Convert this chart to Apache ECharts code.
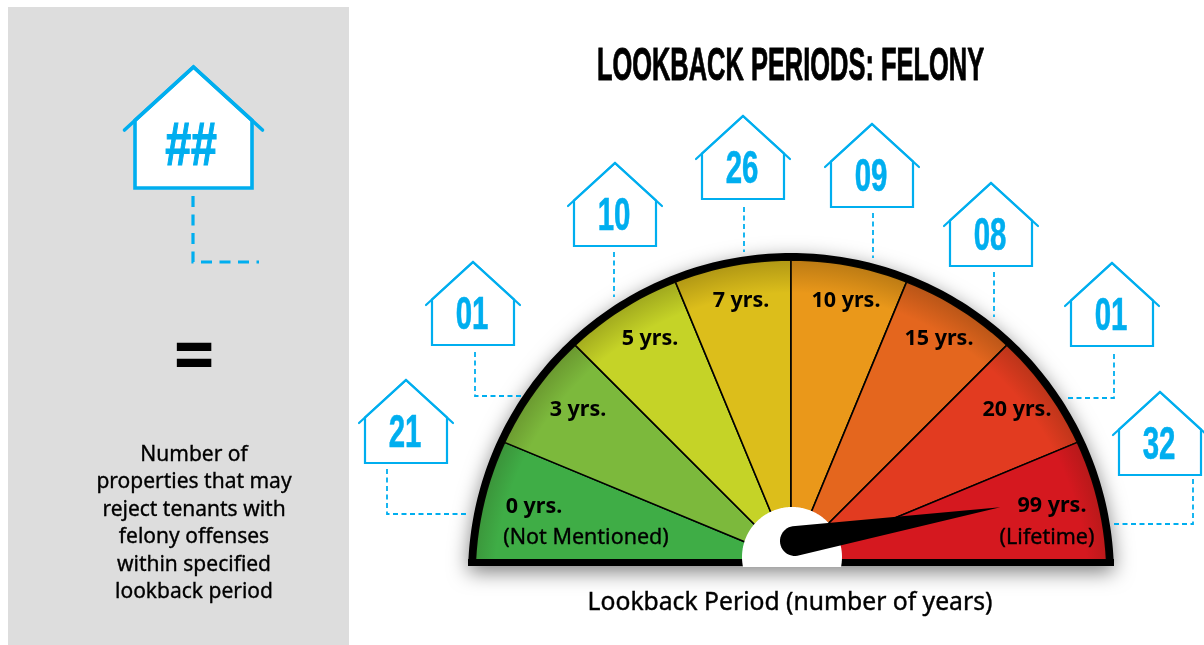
<!DOCTYPE html>
<html>
<head>
<meta charset="utf-8">
<style>
html,body{margin:0;padding:0;background:#fff;}
#main{width:1204px;height:645px;}
</style>
</head>
<body>
<div id="main"></div>
<script src="https://cdn.jsdelivr.net/npm/echarts@6/dist/echarts.min.js"></script>
<script>
// data
var categories = ['0 yrs.', '3 yrs.', '5 yrs.', '7 yrs.', '10 yrs.', '15 yrs.', '20 yrs.', '99 yrs.'];
var subLabels = ['(Not Mentioned)', '', '', '', '', '', '', '(Lifetime)'];
var counts = ['21', '01', '10', '26', '09', '08', '01', '32'];
var legendLines = ['Number of', 'properties that may', 'reject tenants with', 'felony offenses', 'within specified', 'lookback period'];

// styles and layout, kept apart from the data
var wedgeColors = ['#3fad46', '#7cb93c', '#c5d327', '#dcbe1b', '#ea981a', '#e4661e', '#e23b20', '#d5181f'];
var blue = '#00aeef';
var bodyFont = '"Noto Sans", "Open Sans", sans-serif';
var narrowFont = '"Liberation Sans Narrow", "Liberation Sans", sans-serif';
var hub = [791, 561];        // dividers meet here
var arcCentre = [791, 576];  // the dome is a circle cut off by the base
var innerR = 316, outerR = 323, baseTop = 559, baseBottom = 566;
var housePos = [[406, 380], [473, 262], [615, 163], [743, 116], [872, 124], [991, 183], [1112, 263], [1160, 392]];
var leaders = [
    [[387, 469], [387, 514], [467, 514]],
    [[475, 352], [475, 396], [522, 396]],
    [[614, 252], [614, 297]],
    [[744, 207], [744, 252]],
    [[873, 213], [873, 258]],
    [[994, 272], [994, 317]],
    [[1114, 354], [1114, 398], [1068, 398]],
    [[1193, 479], [1193, 524], [1113, 524]]
];
var labelPos = [[534, 507], [578, 410], [650, 339], [741, 301], [846, 301], [939, 339], [1017, 410], [1052, 506]];
var subLabelPos = [[586, 538], null, null, null, null, null, null, [1047, 538]];

function arcPoints(c, r, yMax) {
    var pts = [];
    for (var a = 0; a <= 360; a += 1) {
        var x = c[0] + r * Math.cos(a * Math.PI / 180);
        var y = c[1] + r * Math.sin(a * Math.PI / 180);
        pts.push([x, Math.min(y, yMax)]);
    }
    return pts;
}

// where a ray from the hub meets the inner circle
function rayToArc(deg) {
    var dx = Math.cos(deg * Math.PI / 180), dy = -Math.sin(deg * Math.PI / 180);
    var ox = hub[0] - arcCentre[0], oy = hub[1] - arcCentre[1];
    var b = ox * dx + oy * dy;
    var t = -b + Math.sqrt(b * b - (ox * ox + oy * oy - innerR * innerR));
    return [hub[0] + t * dx, hub[1] + t * dy];
}

function housePath(p, roofW, roofH, bodyW, h, lw, fill) {
    var x = p[0], y = p[1];
    return [{
        type: 'polygon',
        shape: {points: [[x, y], [x + bodyW, y + roofH * bodyW / roofW], [x + bodyW, y + h], [x - bodyW, y + h], [x - bodyW, y + roofH * bodyW / roofW]]},
        style: {fill: fill, stroke: blue, lineWidth: lw, lineJoin: 'miter'}
    }, {
        type: 'polyline',
        shape: {points: [[x - roofW, y + roofH], [x, y], [x + roofW, y + roofH]]},
        style: {fill: 'none', stroke: blue, lineWidth: lw, lineCap: 'round', lineJoin: 'round'}
    }];
}

function narrowText(text, x, y, size, sx, color, weight) {
    return {
        type: 'text', x: x, y: y, scaleX: sx, scaleY: 1,
        style: {text: text, x: 0, y: 0, align: 'center', verticalAlign: 'middle', fill: color,
            stroke: color, lineWidth: weight, font: 'bold ' + size + 'px ' + narrowFont}
    };
}

function renderDome() {
    return {
        type: 'polygon',
        shape: {points: arcPoints(arcCentre, outerR, baseBottom)},
        style: {fill: '#000', shadowBlur: 20, shadowColor: 'rgba(0,0,0,0.5)', shadowOffsetY: 6}
    };
}

function renderWedge(params, api) {
    var i = api.value(0);
    var step = 180 / categories.length;
    var pts = [hub];
    for (var k = 0; k <= 12; k++) {
        pts.push(rayToArc(180 - step * i - step * k / 12));
    }
    return {
        type: 'polygon',
        shape: {points: pts},
        style: {fill: wedgeColors[i], stroke: '#000', lineWidth: 1.6, lineJoin: 'round'}
    };
}

function renderRim() {
    return {
        type: 'group',
        children: [{
            type: 'polygon',
            shape: {points: arcPoints(arcCentre, innerR, baseTop)},
            style: {fill: {type: 'radial', x: arcCentre[0], y: arcCentre[1] + 14, r: innerR + 14, global: true,
                colorStops: [{offset: 0.9, color: 'rgba(40,30,0,0)'}, {offset: 1, color: 'rgba(40,30,0,0.24)'}]}}
        }, {
            type: 'rect',
            shape: {x: arcCentre[0] - outerR, y: baseTop, width: outerR * 2, height: baseBottom - baseTop},
            style: {fill: '#000'}
        }]
    };
}

function renderLabel(params, api) {
    var i = api.value(0);
    var kids = [{
        type: 'text',
        style: {text: categories[i], x: labelPos[i][0], y: labelPos[i][1], align: 'center', verticalAlign: 'middle',
            fill: '#000', font: 'bold 21.5px ' + bodyFont}
    }];
    if (subLabels[i]) {
        kids.push({
            type: 'text',
            style: {text: subLabels[i], x: subLabelPos[i][0], y: subLabelPos[i][1], align: 'center', verticalAlign: 'middle',
                fill: '#000', stroke: '#000', lineWidth: 0.35, font: '21.5px ' + bodyFont}
        });
    }
    return {type: 'group', children: kids};
}

function renderHouse(params, api) {
    var i = api.value(0);
    var p = housePos[i];
    var kids = [{
        type: 'polyline',
        shape: {points: leaders[i]},
        style: {fill: 'none', stroke: blue, lineWidth: 1.8, lineDash: [5, 3.5]}
    }];
    kids = kids.concat(housePath(p, 47, 43, 41, 83, 2.2, '#fff'));
    kids.push(narrowText(counts[i], p[0] - 1, p[1] + 54, 46, 0.64, blue, 0.6));
    return {type: 'group', children: kids};
}

function renderNeedle() {
    // needle sits in the wedge with the largest count
    var top = 0;
    counts.forEach(function (c, i) { if (+c > +counts[top]) top = i; });
    var step = 180 / categories.length;
    var deg = (180 - step * (top + 0.5)) - 1.9;
    var a = deg * Math.PI / 180;
    var base = [795, 541], len = 208, r = 15;
    var tip = [base[0] + len * Math.cos(a), base[1] - len * Math.sin(a)];
    var pts = [tip];
    for (var k = 0; k <= 24; k++) {
        var b = a + Math.PI / 2 + Math.PI * k / 24;
        pts.push([base[0] + r * Math.cos(b), base[1] - r * Math.sin(b)]);
    }
    return {
        type: 'group',
        children: [{
            type: 'polygon',
            shape: {points: arcPoints([792, 557], 50, 567)},
            style: {fill: '#fff'}
        }, {
            type: 'polygon',
            shape: {points: pts},
            style: {fill: '#000'}
        }]
    };
}

function customSeries(z, render, data) {
    return {type: 'custom', coordinateSystem: 'none', silent: true, animation: false, z: z, clip: false,
        renderItem: render, data: data};
}

var indexData = categories.map(function (c, i) { return [i, +counts[i]]; });

var legendText = legendLines.map(function (line, i) {
    return {
        type: 'text',
        style: {text: line, x: 194, y: 455 + i * 27.4, align: 'center', verticalAlign: 'middle', fill: '#000',
            stroke: '#000', lineWidth: 0.35, font: '21px ' + bodyFont}
    };
});

var option = {
    backgroundColor: '#fff',
    animation: false,
    graphic: [{
        type: 'group',
        silent: true,
        children: [{
            type: 'rect', z: -1,
            shape: {x: 8, y: 7, width: 341, height: 638},
            style: {fill: '#dddddd'}
        }, {
            type: 'polyline',
            shape: {points: [[193, 196], [193, 262], [259, 262]]},
            style: {fill: 'none', stroke: blue, lineWidth: 3.2, lineDash: [11, 7.5]}
        }].concat(housePath([193.5, 67], 69, 63, 58.5, 121, 3.6, '#fff')).concat([
            narrowText('##', 191, 148, 62, 0.75, blue, 1.2),
            {
                type: 'text', x: 194, y: 358.5, scaleX: 1.06, scaleY: 1.37,
                style: {text: '=', x: 0, y: 0, align: 'center', verticalAlign: 'middle', fill: '#000',
                    font: 'bold 52px "DejaVu Sans", sans-serif'}
            },
            narrowText('LOOKBACK PERIODS: FELONY', 790.5, 67.5, 46, 0.553, '#000', 0.9),
            {
                type: 'text',
                style: {text: 'Lookback Period (number of years)', x: 790, y: 603, align: 'center', verticalAlign: 'middle',
                    fill: '#000', stroke: '#000', lineWidth: 0.4, font: '24.7px ' + bodyFont}
            }
        ]).concat(legendText)
    }],
    series: [
        customSeries(1, renderDome, [[0]]),
        customSeries(2, renderWedge, indexData),
        customSeries(3, renderRim, [[0]]),
        customSeries(4, renderLabel, indexData),
        customSeries(5, renderNeedle, [[0]]),
        customSeries(6, renderHouse, indexData)
    ]
};

var chart = echarts.init(document.getElementById('main'), null, {renderer: 'canvas'});
chart.setOption(option);
</script>
</body>
</html>
